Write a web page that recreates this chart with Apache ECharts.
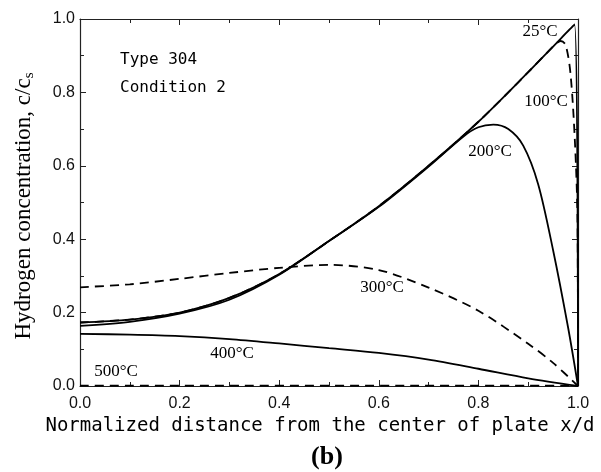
<!DOCTYPE html>
<html lang="en">
<head>
    <meta charset="utf-8">
    <title>Hydrogen concentration profile</title>
    <script src="https://cdn.jsdelivr.net/npm/echarts/dist/echarts.min.js"></script>
    <style>
        html, body { margin: 0; padding: 0; background: #fff; }
        #chart { width: 601px; height: 472px; }
    </style>
</head>
<body>
    <div id="chart"></div>
    <script>
        // values (x = x/d, c = c/cs)
        const x25 = [0, 0.1, 0.2, 0.3, 0.4, 0.5, 0.6, 0.7, 0.8, 0.9, 0.95, 0.993, 1.0];
        const c25 = [0.173, 0.181, 0.2, 0.24, 0.305, 0.395, 0.49, 0.6, 0.72, 0.855, 0.925, 0.985, 0];

        const x100 = [0, 0.1, 0.2, 0.3, 0.4, 0.5, 0.6, 0.7, 0.8, 0.9, 0.95, 0.965, 0.975, 0.985, 0.994, 0.999, 1.0];
        const c100 = [0.173, 0.181, 0.2, 0.24, 0.305, 0.395, 0.49, 0.6, 0.72, 0.855, 0.925, 0.94, 0.93, 0.85, 0.66, 0.45, 0];

        const x200 = [0, 0.1, 0.2, 0.3, 0.4, 0.5, 0.6, 0.7, 0.77, 0.8, 0.83, 0.86, 0.89, 0.92, 0.95, 0.98, 1.0];
        const c200 = [0.164, 0.175, 0.197, 0.235, 0.303, 0.395, 0.488, 0.598, 0.68, 0.705, 0.712, 0.7, 0.655, 0.55, 0.37, 0.16, 0];

        const x300 = [0, 0.1, 0.2, 0.3, 0.4, 0.5, 0.6, 0.7, 0.8, 0.9, 0.95, 1.0];
        const c300 = [0.269, 0.277, 0.292, 0.308, 0.322, 0.33, 0.316, 0.268, 0.205, 0.115, 0.063, 0];

        const x400 = [0, 0.1, 0.2, 0.3, 0.4, 0.5, 0.6, 0.7, 0.8, 0.9, 1.0];
        const c400 = [0.142, 0.14, 0.136, 0.128, 0.116, 0.103, 0.09, 0.072, 0.047, 0.021, 0];

        const x500 = [0, 1.0];
        const c500 = [0.001, 0.001];

        const tempLabels = ['25°C', '100°C', '200°C', '300°C', '400°C', '500°C'];

        function pairs(xs, ys) {
            return xs.map((v, i) => [v, ys[i]]);
        }

        function curve(name, xs, ys, dashed) {
            return {
                name: name,
                type: 'line',
                data: pairs(xs, ys),
                symbol: 'none',
                smooth: 0.3,
                clip: false,
                lineStyle: {
                    color: '#000',
                    width: 1.8,
                    type: dashed ? [9, 6] : 'solid'
                }
            };
        }

        const tickFont = { fontFamily: 'Liberation Sans', fontSize: 16, color: '#111' };
        const tempFont = '17px "Liberation Serif"';

        function axisBase(extra) {
            return Object.assign({
                type: 'value',
                min: 0,
                max: 1,
                interval: 0.2,
                axisLine: { show: true, onZero: false, lineStyle: { color: '#222', width: 1.2 } },
                axisTick: { show: true, inside: true, length: 6, lineStyle: { color: '#222' } },
                minorTick: { show: true, splitNumber: 2, length: 4, lineStyle: { color: '#222' } },
                splitLine: { show: false },
                minorSplitLine: { show: false }
            }, extra);
        }

        function note(text, x, y, font, align) {
            return { type: 'text', x: x, y: y, style: { text: text, font: font, fill: '#000', align: align || 'center', verticalAlign: 'middle' } };
        }

        const chart = echarts.init(document.getElementById('chart'));

        const option = {
            animation: false,
            backgroundColor: '#fff',
            grid: { left: 80, right: 23, top: 19, bottom: 86 },
            xAxis: [
                axisBase({
                    position: 'bottom',
                    axisLabel: Object.assign({ margin: 10, formatter: v => v.toFixed(1) }, tickFont)
                }),
                axisBase({ position: 'top', axisLabel: { show: false } })
            ],
            yAxis: [
                axisBase({
                    position: 'left',
                    axisLabel: Object.assign({ margin: 5, formatter: v => v.toFixed(1) }, tickFont)
                }),
                axisBase({ position: 'right', axisLabel: { show: false } })
            ],
            series: [
                curve(tempLabels[0], x25, c25, false),
                curve(tempLabels[1], x100, c100, true),
                curve(tempLabels[2], x200, c200, false),
                curve(tempLabels[3], x300, c300, true),
                curve(tempLabels[4], x400, c400, false),
                curve(tempLabels[5], x500, c500, true)
            ],
            graphic: [
                // temperature labels
                note(tempLabels[0], 540, 32, tempFont),
                note(tempLabels[1], 546, 102, tempFont),
                note(tempLabels[2], 490, 152, tempFont),
                note(tempLabels[3], 382, 288, tempFont),
                note(tempLabels[4], 232, 354, tempFont),
                note(tempLabels[5], 116, 372, tempFont),
                // material / condition
                note('Type 304', 120, 60, '16px "DejaVu Sans Mono"', 'left'),
                note('Condition 2', 120, 88, '16px "DejaVu Sans Mono"', 'left'),
                // axis names
                note('Normalized distance from the center of plate x/d', 320, 426, '19px "DejaVu Sans Mono"'),
                {
                    type: 'text', x: 24, y: 206, rotation: Math.PI / 2,
                    style: {
                        text: '{a|Hydrogen concentration, c/c}{b|s}',
                        fill: '#000', align: 'center', verticalAlign: 'middle',
                        rich: {
                            a: { fontFamily: 'Liberation Serif', fontSize: 23, color: '#000' },
                            b: { fontFamily: 'Liberation Serif', fontSize: 15, color: '#000', padding: [10, 0, 0, 0] }
                        }
                    }
                },
                note('(b)', 327, 457, 'bold 26px "Liberation Serif"')
            ]
        };

        chart.setOption(option);
    </script>
</body>
</html>
